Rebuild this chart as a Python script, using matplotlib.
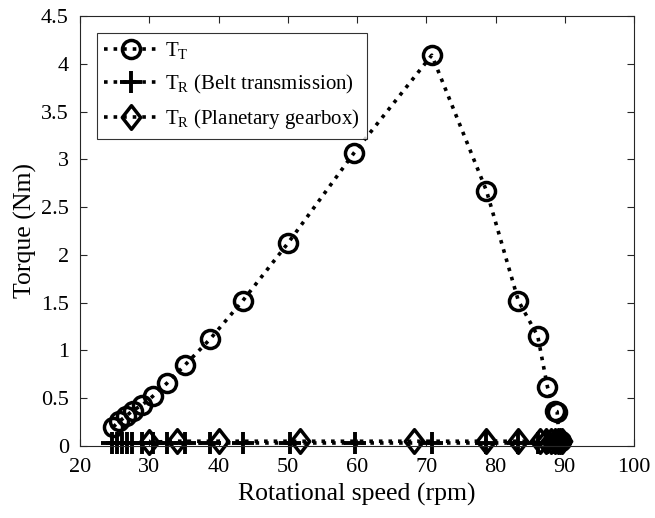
import matplotlib
matplotlib.use("Agg")
import matplotlib.pyplot as plt
from matplotlib.path import Path

plt.rcParams['font.family'] = ['Liberation Serif', 'DejaVu Serif']
plt.rcParams['mathtext.fontset'] = 'custom'
plt.rcParams['mathtext.rm'] = 'Liberation Serif'
plt.rcParams['mathtext.it'] = 'Liberation Serif:italic'

# Data
speed_tt = [24.8, 25.7, 26.6, 27.6, 29.0, 30.5, 32.6, 35.2, 38.8, 43.5, 50.0, 59.6, 70.8, 78.7, 83.3, 86.1, 87.5, 88.6, 88.9, 89.2, 89.4]
torque_tt = [0.20, 0.26, 0.31, 0.37, 0.43, 0.52, 0.66, 0.85, 1.12, 1.52, 2.12, 3.07, 4.09, 2.67, 1.52, 1.15, 0.62, 0.37, 0.36, 0.06, 0.05]

speed_belt = [24.6, 25.3, 26.0, 26.8, 27.5, 29.0, 30.5, 32.6, 35.2, 38.8, 43.5, 50.3, 59.7, 70.8, 78.7, 83.3, 86.1, 87.5, 88.6, 89.0, 89.4]
torque_belt = [0.03, 0.03, 0.03, 0.03, 0.03, 0.03, 0.03, 0.03, 0.03, 0.03, 0.03, 0.03, 0.03, 0.03, 0.03, 0.03, 0.03, 0.03, 0.03, 0.03, 0.03]

speed_plan = [30.0, 34.0, 40.0, 51.7, 68.3, 78.7, 83.3, 86.4, 87.3, 88.0, 88.6, 89.0, 89.3, 89.6]
torque_plan = [0.04, 0.05, 0.05, 0.05, 0.05, 0.05, 0.05, 0.05, 0.05, 0.05, 0.05, 0.05, 0.05, 0.05]

labels = [r'T$_\mathrm{T}$', r'T$_\mathrm{R}$ (Belt transmission)', r'T$_\mathrm{R}$ (Planetary gearbox)']

diamond = Path([(0, 1), (0.78, 0), (0, -1), (-0.78, 0), (0, 1)],
               [Path.MOVETO, Path.LINETO, Path.LINETO, Path.LINETO, Path.CLOSEPOLY])

fig = plt.figure(figsize=(6.55, 5.18), dpi=100)
ax = fig.add_axes([80/655, 1 - 446/518, (634-80)/655, (446-16)/518])

lw = 2.6
ax.plot(speed_tt, torque_tt, linestyle=':', color='k', lw=lw, marker='o', ms=13,
        mfc='none', mec='k', mew=2.5, label=labels[0], clip_on=False)
ax.plot(speed_belt, torque_belt, linestyle=':', color='k', lw=lw, marker='+', ms=16,
        mec='k', mew=2.8, label=labels[1], clip_on=False)
ax.plot(speed_plan, torque_plan, linestyle=':', color='k', lw=lw, marker=diamond, ms=17,
        mfc='none', mec='k', mew=2.5, label=labels[2], clip_on=False)

ax.set_xlim(20, 100)
ax.set_ylim(0, 4.5)
ax.set_xticks([20, 30, 40, 50, 60, 70, 80, 90, 100])
ax.set_yticks([0, 0.5, 1, 1.5, 2, 2.5, 3, 3.5, 4, 4.5])
ax.set_yticklabels(['0', '0.5', '1', '1.5', '2', '2.5', '3', '3.5', '4', '4.5'])
ax.tick_params(direction='in', top=True, right=True, labelsize=16, length=5, width=0.8,
               colors='#262626', labelcolor='k')
ax.tick_params(axis='x', pad=9)
ax.tick_params(axis='y', pad=8)
for s in ax.spines.values():
    s.set_linewidth(0.8)
    s.set_color('#262626')

ax.set_xlabel('Rotational speed (rpm)', fontsize=18.5, labelpad=4)
ax.set_ylabel('Torque (Nm)', fontsize=18.5, labelpad=3)

leg = ax.legend(loc='upper left', bbox_to_anchor=(17/554, 1 - 17/430), fontsize=15,
                frameon=True, fancybox=False, edgecolor='k', handlelength=2.6,
                borderpad=0.35, labelspacing=0.55, handletextpad=0.3, borderaxespad=0)
leg.get_frame().set_linewidth(0.8)

fig.savefig('out.png', dpi=100)
